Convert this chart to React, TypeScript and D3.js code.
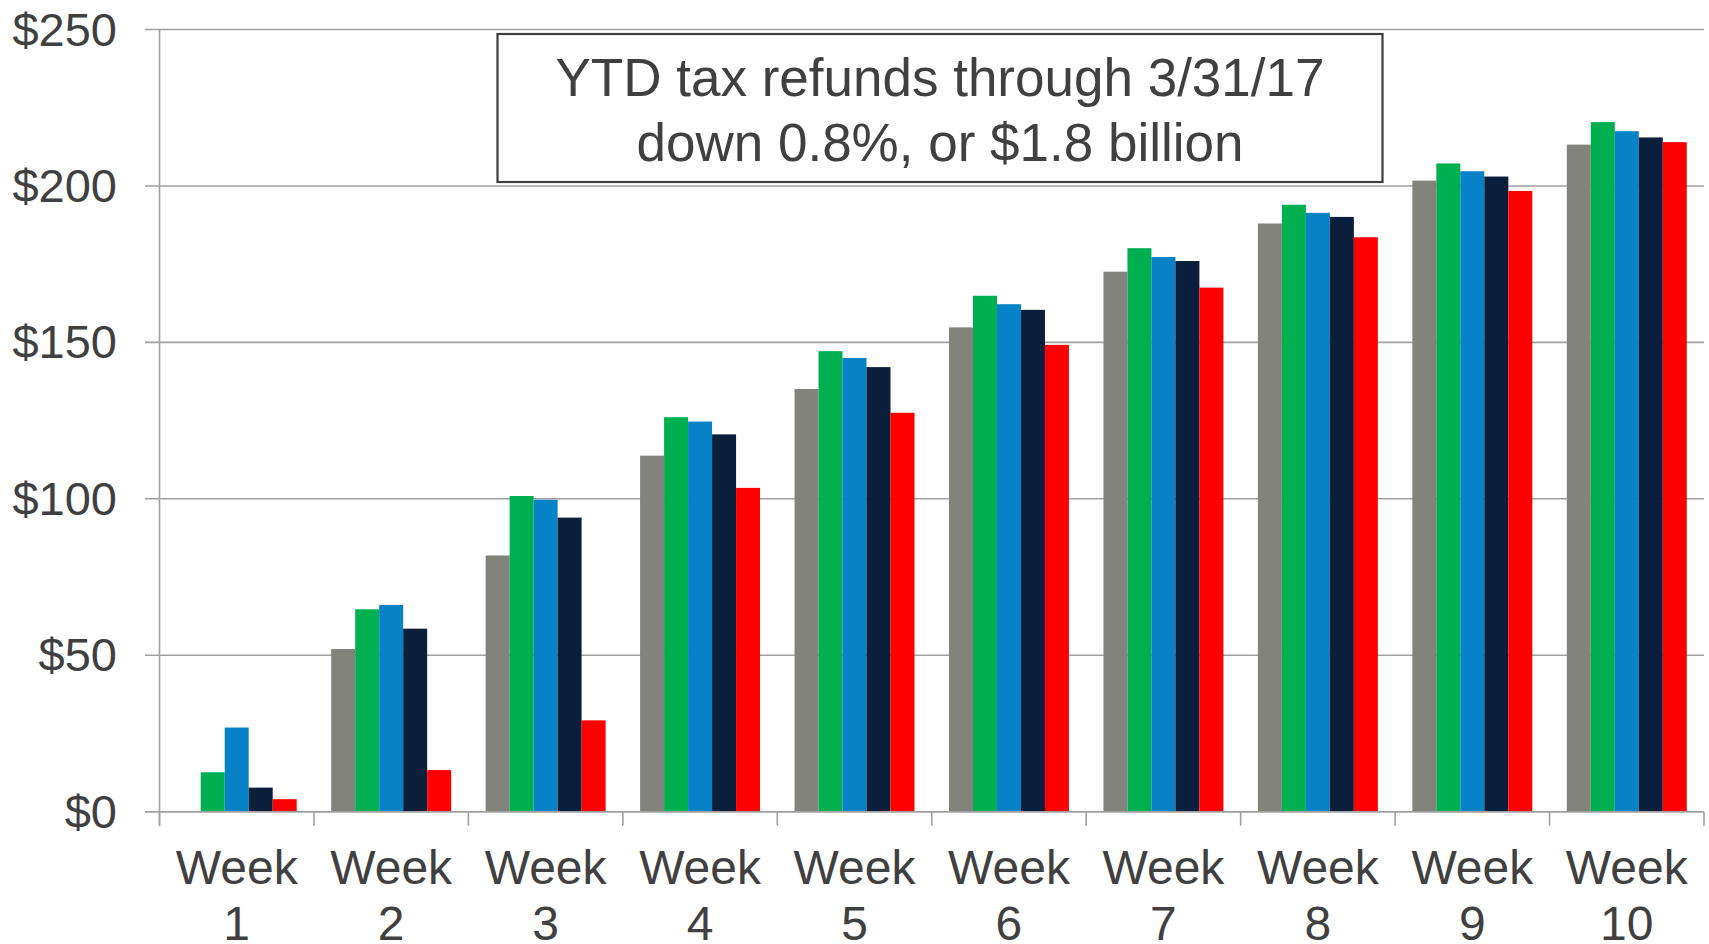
import React from "react";
import * as d3 from "d3";

const weeks = ["1", "2", "3", "4", "5", "6", "7", "8", "9", "10"];
const seriesNames = ["2013", "2014", "2015", "2016", "2017"];
const seriesColors = ["#82847B", "#00B050", "#0782C6", "#0B1F3C", "#FF0000"];
const s2013 = [0, 52.0, 81.9, 113.8, 135.1, 154.8, 172.6, 188.0, 201.7, 213.2];
const s2014 = [12.6, 64.7, 100.9, 126.1, 147.2, 164.9, 180.1, 194.0, 207.2, 220.4];
const s2015 = [26.9, 66.1, 99.7, 124.7, 145.0, 162.2, 177.3, 191.4, 204.7, 217.5];
const s2016 = [7.7, 58.5, 94.0, 120.6, 142.1, 160.4, 176.0, 190.1, 203.0, 215.5];
const s2017 = [4.0, 13.3, 29.2, 103.5, 127.5, 149.2, 167.5, 183.6, 198.4, 214.0];
const yTicks = [0, 50, 100, 150, 200, 250];
const titleLines = ["YTD tax refunds through 3/31/17", "down 0.8%, or $1.8 billion"];

const seriesValues = [s2013, s2014, s2015, s2016, s2017];

export default function App() {
  const W = 1709;
  const H = 944;
  const left = 159.5;
  const right = 1704;
  const top = 29.5;
  const bottom = 811.7;
  const font = "'Liberation Sans', Arial, sans-serif";
  const textColor = "#404040";
  const gridColor = "#A0A0A0";

  const y = d3.scaleLinear().domain([0, 250]).range([bottom, top]);
  const x0 = d3.scaleBand<string>().domain(weeks).range([left, right]).paddingInner(0).paddingOuter(0);
  const bw = x0.bandwidth();
  const x1 = d3.scaleBand<string>().domain(seriesNames).range([0, bw]).paddingInner(0).paddingOuter(0.719);

  const tickXs = weeks.map((w) => x0(w) as number).concat([right]);

  return (
    <svg width={W} height={H} style={{ position: "absolute", left: 0, top: 0, background: "#fff" }}>
      {yTicks.map((t) => (
        <line key={"g" + t} x1={145} x2={right} y1={y(t)} y2={y(t)} stroke={gridColor} strokeWidth={1.6} />
      ))}
      <line x1={left} x2={left} y1={top} y2={bottom + 14} stroke={gridColor} strokeWidth={1.6} />
      {tickXs.map((tx, i) => (
        <line key={"t" + i} x1={tx} x2={tx} y1={bottom} y2={bottom + 14} stroke={gridColor} strokeWidth={1.6} />
      ))}
      {weeks.map((w, wi) => (
        <g key={"w" + w} transform={`translate(${x0(w)},0)`}>
          {seriesNames.map((s, si) => {
            const v = seriesValues[si][wi];
            if (!v) return null;
            return (
              <rect
                key={s}
                x={x1(s)}
                y={y(v)}
                width={x1.bandwidth()}
                height={y(0) - y(v)}
                fill={seriesColors[si]}
              />
            );
          })}
        </g>
      ))}
      <line x1={145} x2={right} y1={bottom} y2={bottom} stroke={gridColor} strokeWidth={1.6} />
      {yTicks.map((t) => (
        <text
          key={"yl" + t}
          x={117}
          y={y(t)}
          dy={16}
          textAnchor="end"
          fontFamily={font}
          fontSize={47}
          fill={textColor}
        >
          {"$" + t}
        </text>
      ))}
      {weeks.map((w) => (
        <text
          key={"xl" + w}
          x={(x0(w) as number) + bw / 2}
          textAnchor="middle"
          fontFamily={font}
          fontSize={48}
          fill={textColor}
        >
          <tspan x={(x0(w) as number) + bw / 2} y={883.5}>Week</tspan>
          <tspan x={(x0(w) as number) + bw / 2} y={940}>{w}</tspan>
        </text>
      ))}
      <rect x={497.5} y={34} width={885} height={148} fill="#fff" stroke="#404040" strokeWidth={2.2} />
      {titleLines.map((l, i) => (
        <text
          key={"tl" + i}
          x={940}
          y={95.7 + i * 65}
          textAnchor="middle"
          fontFamily={font}
          fontSize={53}
          fill={textColor}
        >
          {l}
        </text>
      ))}
    </svg>
  );
}
